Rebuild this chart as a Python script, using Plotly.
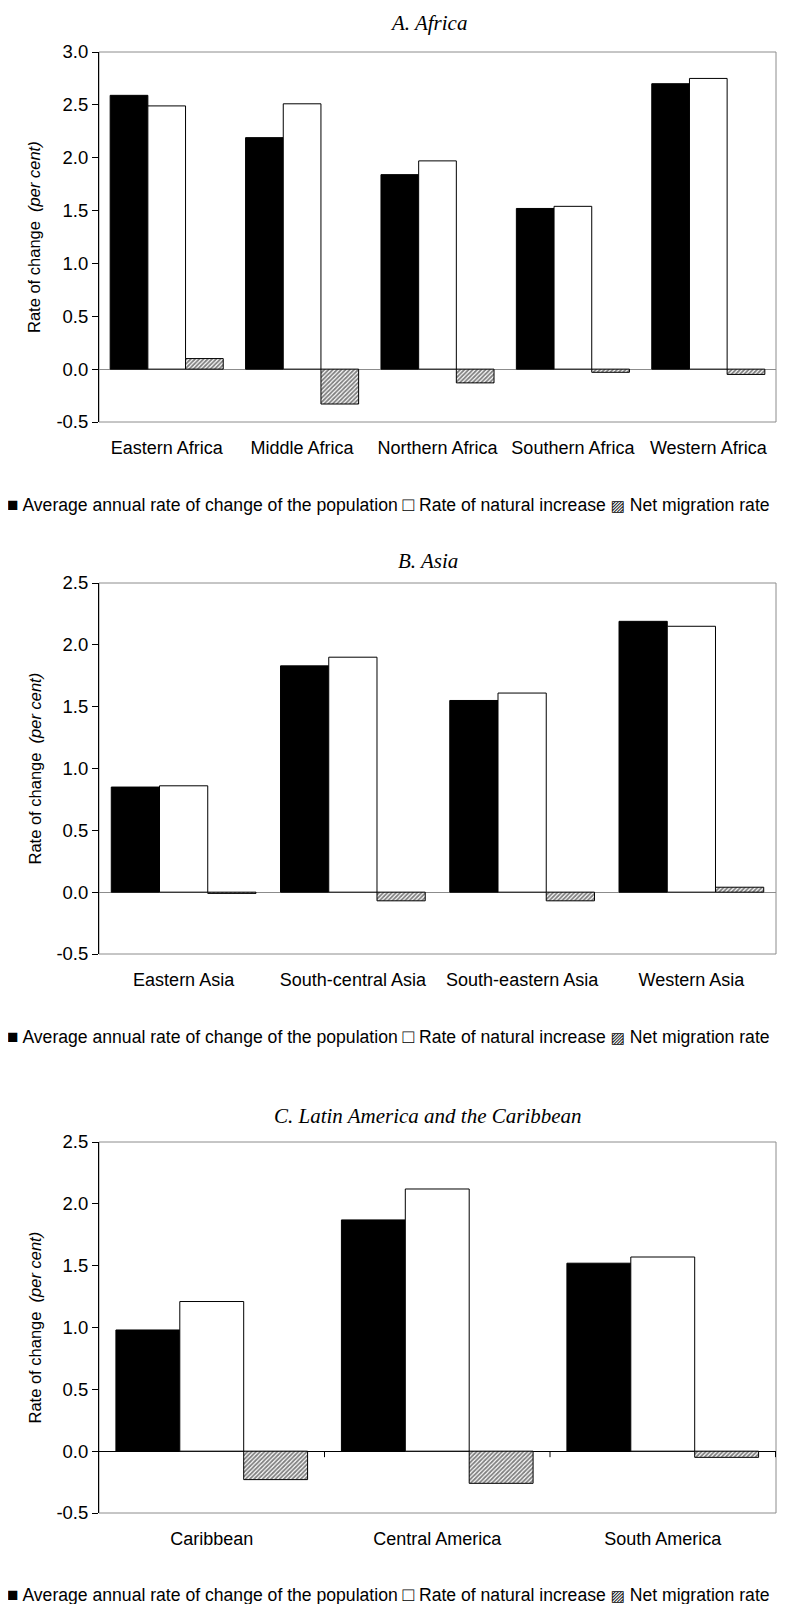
import plotly.graph_objects as go

# ---------------- data ----------------
africa_regions = ["Eastern Africa", "Middle Africa", "Northern Africa", "Southern Africa", "Western Africa"]
africa_growth = [2.59, 2.19, 1.84, 1.52, 2.70]
africa_natural = [2.49, 2.51, 1.97, 1.54, 2.75]
africa_migration = [0.10, -0.33, -0.13, -0.03, -0.05]

asia_regions = ["Eastern Asia", "South-central Asia", "South-eastern Asia", "Western Asia"]
asia_growth = [0.85, 1.83, 1.55, 2.19]
asia_natural = [0.86, 1.90, 1.61, 2.15]
asia_migration = [-0.01, -0.07, -0.07, 0.04]

latam_regions = ["Caribbean", "Central America", "South America"]
latam_growth = [0.98, 1.87, 1.52]
latam_natural = [1.21, 2.12, 1.57]
latam_migration = [-0.23, -0.26, -0.05]

series_names = ["Average annual rate of change of the population",
                "Rate of natural increase",
                "Net migration rate"]
panel_titles = ["A. Africa", "B. Asia", "C. Latin America and the Caribbean"]
y_ticks_africa = [-0.5, 0.0, 0.5, 1.0, 1.5, 2.0, 2.5, 3.0]
y_ticks_other = [-0.5, 0.0, 0.5, 1.0, 1.5, 2.0, 2.5]
y_title_main = "Rate of change"
y_title_unit = "(per cent)"

# ---------------- layout (page pixels) ----------------
PAGE_W, PAGE_H = 787, 1604
OFF = 8                      # default page-body margin around the figure div
W, H = PAGE_W - OFF, PAGE_H - OFF
PL, PR = 99, 776
panels_px = [(52, 422), (583, 954), (1142, 1513)]   # (top, bottom) of plot areas
title_y = [23, 561, 1116]
legend_y = [505, 1036, 1594]
title_x = 428
ytitle_x = 34
legend_x = 5
group_gap = [0.165, 0.145, 0.15]
zero_colors = ["#8c8c8c", "#8c8c8c", "black"]
boundary_ticks = [False, False, True]

SANS = "Liberation Sans, Arial, sans-serif"
SERIF = "Liberation Serif, Times New Roman, serif"
GREY = "#8c8c8c"

panels = [
    (africa_regions, [africa_growth, africa_natural, africa_migration], y_ticks_africa),
    (asia_regions, [asia_growth, asia_natural, asia_migration], y_ticks_other),
    (latam_regions, [latam_growth, latam_natural, latam_migration], y_ticks_other),
]

fig = go.Figure()
annotations = []
shapes = []


def px_x(v):
    return (v - OFF) / W


def px_y(v):
    return 1 - (v - OFF) / H


legend_text = (
    f"<span style='font-size:19px'>■</span> {series_names[0]} "
    f"<span style='font-size:19px'>□</span> {series_names[1]} "
    f"<span style='font-family:DejaVu Sans;font-size:15px'>▨</span> {series_names[2]}"
)

for i, (cats, series, yticks) in enumerate(panels):
    n = i + 1
    xa = "x" if n == 1 else f"x{n}"
    ya = "y" if n == 1 else f"y{n}"
    xkey = "xaxis" if n == 1 else f"xaxis{n}"
    ykey = "yaxis" if n == 1 else f"yaxis{n}"
    top, bot = panels_px[i]
    gw = 1 - group_gap[i]
    bw = gw / 3
    styles = [
        dict(color="black", line=dict(color="black", width=1)),
        dict(color="white", line=dict(color="black", width=1)),
        dict(color="white", line=dict(color="black", width=1),
             pattern=dict(shape="/", fgcolor="black", bgcolor="white", size=3, solidity=0.6)),
    ]
    for k, vals in enumerate(series):
        fig.add_trace(go.Bar(
            x=cats, y=vals, name=series_names[k],
            xaxis=xa, yaxis=ya, showlegend=False,
            width=bw, offset=-gw / 2 + k * bw,
            marker=styles[k],
        ))
    fig.layout[xkey] = dict(
        domain=[px_x(PL), px_x(PR)], anchor=ya, automargin=False,
        type="category", showgrid=False, showline=False, zeroline=False,
        ticks="outside", ticklen=9, tickcolor="rgba(0,0,0,0)",
        tickfont=dict(family=SANS, size=18, color="black"),
        fixedrange=True,
    )
    fig.layout[ykey] = dict(
        domain=[px_y(bot), px_y(top)], anchor=xa, automargin=False,
        range=[yticks[0], yticks[-1]],
        tickmode="array", tickvals=yticks,
        ticktext=[f"{v:.1f}" for v in yticks],
        showgrid=False, showline=True, linecolor="black", linewidth=1,
        ticks="outside", ticklen=6, tickcolor="black", tickwidth=1,
        zeroline=True, zerolinecolor=zero_colors[i], zerolinewidth=1,
        tickfont=dict(family=SANS, size=18.5, color="black"),
        fixedrange=True,
    )
    # plot-area frame (grey)
    shapes.append(dict(type="rect", xref=f"{xa} domain", yref=f"{ya} domain",
                       x0=0, x1=1, y0=0, y1=1, line=dict(color=GREY, width=1),
                       layer="below"))
    # category-boundary ticks on the zero line
    if boundary_ticks[i]:
        for j in range(len(cats)):
            shapes.append(dict(type="line", xref=xa, yref=ya,
                               x0=j + 0.5, x1=j + 0.5,
                               ysizemode="pixel", yanchor=0, y0=0, y1=-6,
                               line=dict(color="black", width=1)))
    # panel title
    annotations.append(dict(text=f"<i>{panel_titles[i]}</i>", xref="paper", yref="paper",
                            x=px_x(title_x), y=px_y(title_y[i]),
                            xanchor="center", yanchor="middle",
                            showarrow=False, font=dict(family=SERIF, size=21, color="black")))
    # y-axis title
    annotations.append(dict(text=f"{y_title_main}&nbsp; <i>{y_title_unit}</i>",
                            xref="paper", yref=f"{ya} domain",
                            x=px_x(ytitle_x), y=0.5, xanchor="center", yanchor="middle",
                            textangle=-90, showarrow=False,
                            font=dict(family=SANS, size=16.5, color="black")))
    # legend line
    annotations.append(dict(
        text=legend_text,
        xref="paper", yref="paper", x=px_x(legend_x), y=px_y(legend_y[i]),
        xanchor="left", yanchor="middle", showarrow=False,
        font=dict(family=SANS, size=17.6, color="black")))

fig.update_layout(
    width=W, height=H,
    margin=dict(l=0, r=0, t=0, b=0, autoexpand=False),
    paper_bgcolor="white", plot_bgcolor="white",
    barmode="overlay",
    annotations=annotations, shapes=shapes,
    showlegend=False,
)

fig.write_html("out.html")
